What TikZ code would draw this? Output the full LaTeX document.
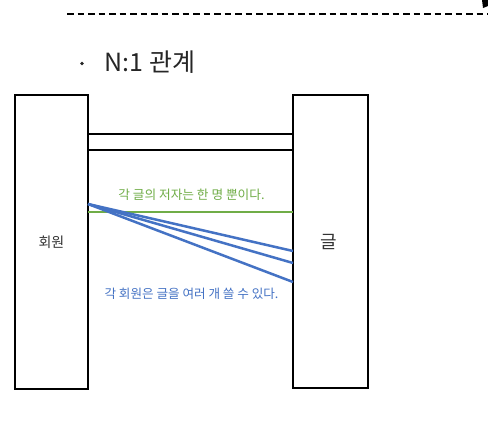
\documentclass[tikz,border=0pt]{standalone}
\usepackage{fontspec}
\setmainfont{Noto Sans CJK KR}
\definecolor{grn}{RGB}{112,173,71}
\definecolor{blu}{RGB}{68,114,196}
\begin{document}
\begin{tikzpicture}[x=1pt,y=-1pt,
  entity/.style={draw=black,line width=2.4pt,fill=white,inner sep=0pt,outer sep=0pt},
  rel/.style={line width=2.5pt},
  grnline/.style={draw=grn,line width=2.8pt},
  bluline/.style={draw=blu}]
\useasboundingbox (0,0) rectangle (488,432);
\fill[white] (0,0) rectangle (488,432);
% dashed header line
\draw[line width=1.7pt,dash pattern=on 6.5pt off 4pt] (67,14) -- (488,14);
\fill (482,0) -- (488,0) -- (488,6) -- (483,8) -- cycle;
% title
\fill[black!85] (82,63.5) circle (1.9pt);
\node[anchor=west,font=\fontsize{25}{28}\selectfont,text=black!85] (title) at (101,62) {N:1 관계};
% entities
\node[entity,minimum width=73pt,minimum height=294pt] (m) at (51.5,242) {};
\node[entity,minimum width=75pt,minimum height=293pt] (p) at (330.5,241.5) {};
\node[font=\fontsize{14}{16}\selectfont,text=black!80] (mt) at (51.5,242) {회원};
\node[font=\fontsize{18}{20}\selectfont,text=black!80] (pt) at (328.5,242) {글};
% coordinates on borders
\coordinate (a1) at (m.east |- 0,134);
\coordinate (b1) at (p.west |- 0,134);
\coordinate (a2) at (m.east |- 0,150);
\coordinate (b2) at (p.west |- 0,150);
\coordinate (g1) at (m.east |- 0,212);
\coordinate (g2) at (p.west |- 0,212);
\coordinate (s) at (m.east |- 0,204);
\coordinate (e1) at (p.west |- 0,251);
\coordinate (e2) at (p.west |- 0,263);
\coordinate (e3) at (p.west |- 0,282);
\draw[rel] (a1) -- (b1);
\draw[rel] (a2) -- (b2);
\draw[rel,grnline] (g1) -- (g2);
\draw[rel,bluline] (s) -- (e1);
\draw[rel,bluline] (s) -- (e2);
\draw[rel,bluline] (s) -- (e3);
\node[font=\fontsize{12.7}{14}\selectfont,text=grn] (gt) at (191.5,195) {각 글의 저자는 한 명 뿐이다.};
\node[font=\fontsize{12.6}{14}\selectfont,text=blu] (bt) at (191.5,294) {각 회원은 글을 여러 개 쓸 수 있다.};
\end{tikzpicture}
\end{document}
